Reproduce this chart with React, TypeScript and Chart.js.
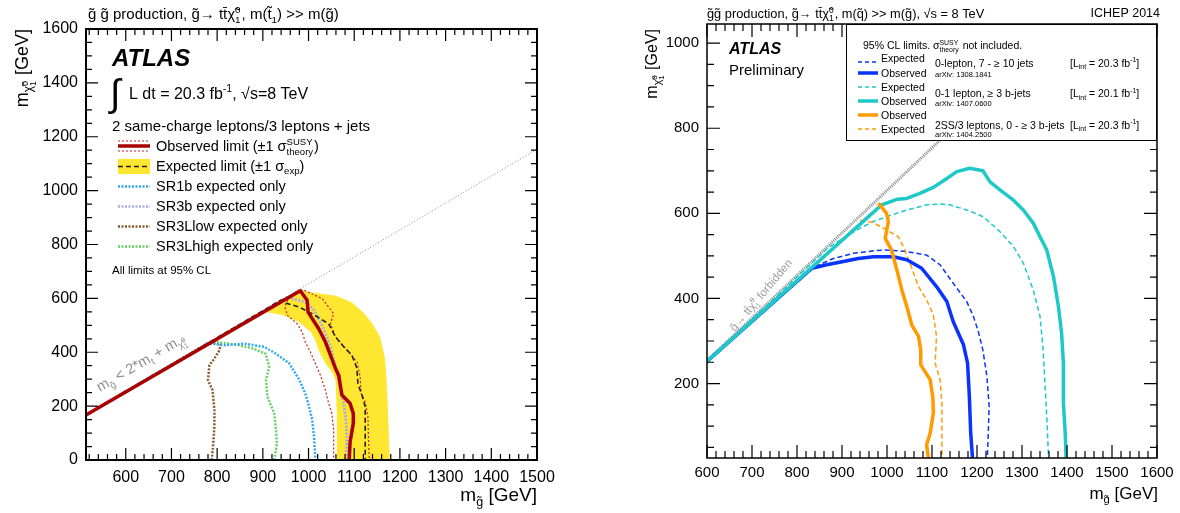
import React, { useEffect, useRef } from 'react';
import { Chart, registerables } from 'chart.js';

Chart.register(...registerables);

type P = [number, number];
type Part = [string, string?];

const FONT = '"Liberation Sans", Arial, Helvetica, sans-serif';

// ---------------- Left panel (GeV) ----------------
const leftXTickLabels = [600, 700, 800, 900, 1000, 1100, 1200, 1300, 1400, 1500];
const leftYTickLabels = [0, 200, 400, 600, 800, 1000, 1200, 1400, 1600];
const kinematicLeft: P[] = [[513, 167], [1500, 1154]];
const observedLimit: P[] = [[513, 167], [982, 628], [997, 593], [999, 549], [1008, 525], [1022, 488], [1037, 438], [1048, 389], [1059, 340], [1066, 315], [1073, 241], [1091, 210], [1098, 173], [1098, 136], [1091, 68], [1089, 0]];
const observedUp: P[] = [[513, 167], [988, 632], [1030, 599], [1055, 543], [1048, 506], [1059, 457], [1088, 401], [1106, 364], [1113, 309], [1115, 247], [1124, 216], [1130, 160], [1131, 86], [1133, 0]];
const observedDown: P[] = [[513, 167], [958, 609], [948, 568], [954, 537], [975, 506], [986, 475], [993, 438], [1004, 401], [1015, 358], [1026, 315], [1037, 259], [1044, 210], [1051, 173], [1055, 111], [1055, 0]];
const expectedLimit: P[] = [[513, 167], [940, 594], [950, 583], [979, 568], [1008, 543], [1044, 506], [1059, 457], [1077, 420], [1095, 389], [1106, 340], [1108, 284], [1117, 241], [1124, 198], [1124, 111], [1124, 0]];
const bandOuter: P[] = [[896, 550], [982, 630], [1010, 622], [1060, 610], [1095, 585], [1120, 548], [1140, 506], [1157, 455], [1167, 380], [1171, 296], [1174, 173], [1176, 80], [1178, 0]];
const bandInner: P[] = [[1062, 0], [1062, 173], [1059, 296], [1051, 327], [1037, 358], [1022, 407], [1015, 444], [1005, 475], [979, 512], [943, 538], [920, 546], [896, 550]];
const sr1bExpected: P[] = [[513, 167], [780, 434], [816, 426], [859, 432], [903, 420], [928, 395], [957, 360], [970, 325], [979, 300], [993, 247], [1000, 205], [1008, 150], [1012, 86], [1014, 31], [1015, 0]];
const sr3bExpected: P[] = [[513, 167], [955, 606], [964, 599], [993, 587], [1012, 556], [1026, 512], [1037, 469], [1048, 420], [1055, 370], [1062, 327], [1070, 259], [1077, 210], [1082, 148], [1084, 86], [1082, 0]];
const sr3lLowExpected: P[] = [[513, 167], [780, 434], [808, 430], [805, 407], [794, 377], [783, 352], [780, 296], [790, 259], [794, 185], [794, 124], [791, 49], [788, 0]];
const sr3lHighExpected: P[] = [[513, 167], [780, 434], [798, 438], [848, 426], [878, 414], [906, 395], [914, 346], [907, 296], [910, 235], [925, 173], [928, 124], [931, 62], [925, 0]];

// ---------------- Right panel (GeV) ----------------
const rightXTickLabels = [600, 700, 800, 900, 1000, 1100, 1200, 1300, 1400, 1500, 1600];
const rightYTickLabels = [200, 400, 600, 800, 1000];
const kinematicRight: P[] = [[600, 254], [1200, 854]];
const zeroLepObserved: P[] = [[600, 252], [833, 471], [866, 479], [903, 487], [936, 494], [970, 498], [1014, 498], [1044, 491], [1077, 471], [1110, 428], [1133, 393], [1147, 346], [1170, 291], [1179, 248], [1183, 170], [1186, 84], [1190, 25]];
const zeroLepExpected: P[] = [[600, 252], [840, 475], [881, 494], [925, 506], [970, 512], [999, 514], [1044, 510], [1088, 502], [1118, 479], [1147, 436], [1177, 393], [1192, 358], [1203, 322], [1213, 279], [1222, 217], [1227, 146], [1225, 84], [1223, 25]];
const oneLepObserved: P[] = [[600, 252], [988, 620], [1022, 633], [1044, 635], [1073, 647], [1103, 661], [1133, 682], [1155, 698], [1184, 706], [1213, 700], [1229, 674], [1251, 655], [1281, 631], [1303, 608], [1325, 577], [1340, 545], [1355, 514], [1370, 451], [1381, 381], [1388, 318], [1392, 248], [1392, 154], [1396, 84], [1398, 25]];
const oneLepExpected: P[] = [[600, 252], [870, 520], [896, 537], [940, 565], [970, 581], [999, 592], [1044, 608], [1088, 620], [1118, 622], [1140, 620], [1177, 608], [1214, 592], [1251, 557], [1281, 522], [1303, 483], [1325, 420], [1340, 358], [1347, 279], [1351, 201], [1355, 123], [1359, 25]];
const ssObserved: P[] = [[981, 624], [999, 600], [1003, 581], [996, 541], [1010, 514], [1022, 467], [1033, 420], [1044, 381], [1055, 338], [1070, 311], [1075, 279], [1075, 244], [1096, 209], [1102, 166], [1103, 131], [1096, 84], [1088, 56], [1092, 25]];
const ssExpected: P[] = [[940, 584], [970, 578], [999, 561], [1025, 545], [1040, 514], [1051, 483], [1070, 428], [1088, 397], [1103, 361], [1110, 311], [1107, 248], [1118, 209], [1122, 154], [1122, 84], [1122, 25]];

// ---------------- helpers ----------------
const toXY = (pts: P[]) => pts.map(([x, y]) => ({ x, y }));

function line(label: string, pts: P[], color: string, width: number, dash: number[], order: number, extra: any = {}) {
  return {
    label, data: toXY(pts), borderColor: color, backgroundColor: color, borderWidth: width,
    borderDash: dash, showLine: true, pointRadius: 0, pointHoverRadius: 0, fill: false,
    tension: 0, order, borderJoinStyle: 'round', ...extra,
  };
}

function drawRich(ctx: CanvasRenderingContext2D, x: number, y: number, size: number, parts: Part[],
  opt: { align?: string; color?: string; style?: string } = {}) {
  const style = opt.style || '';
  const small = size * 0.66;
  const tiny = size * 0.5;
  const setF = (s: number) => { ctx.font = `${style} ${s}px ${FONT}`; };
  const widths = parts.map(([t, k]) => {
    if (!k) { setF(size); return ctx.measureText(t).width; }
    if (k === '^_' || k === '_^_') {
      setF(k === '^_' ? small : tiny);
      const [a, b] = t.split('|');
      return Math.max(ctx.measureText(a).width, ctx.measureText(b).width) + 1;
    }
    setF(small);
    return ctx.measureText(t).width;
  });
  const total = widths.reduce((a, b) => a + b, 0);
  let cx = opt.align === 'right' ? x - total : opt.align === 'center' ? x - total / 2 : x;
  ctx.fillStyle = opt.color || '#000';
  ctx.textBaseline = 'alphabetic';
  ctx.textAlign = 'left';
  parts.forEach(([t, k], i) => {
    if (!k) { setF(size); ctx.fillText(t, cx, y); }
    else if (k === '^') { setF(small); ctx.fillText(t, cx, y - size * 0.42); }
    else if (k === '_') { setF(small); ctx.fillText(t, cx, y + size * 0.24); }
    else if (k === '^_') {
      const [a, b] = t.split('|'); setF(small);
      ctx.fillText(a, cx, y - size * 0.42); ctx.fillText(b, cx, y + size * 0.26);
    } else {
      const [a, b] = t.split('|'); setF(tiny);
      ctx.fillText(a, cx, y - size * 0.02); ctx.fillText(b, cx, y + size * 0.42);
    }
    cx += widths[i];
  });
  return total;
}

function drawFrame(chart: any, xMajorStep: number, xMinorStep: number, yMajorStep: number, yMinorStep: number,
  maj: number, min: number, lw: number) {
  const { ctx, chartArea: a, scales } = chart;
  const xs = scales.x, ys = scales.y;
  ctx.save();
  ctx.strokeStyle = '#000';
  ctx.lineWidth = 1.2;
  ctx.beginPath();
  for (let v = Math.ceil(xs.min / xMinorStep) * xMinorStep; v <= xs.max + 1e-6; v += xMinorStep) {
    const px = xs.getPixelForValue(v);
    const len = Math.abs(v % xMajorStep) < 1e-6 ? maj : min;
    ctx.moveTo(px, a.bottom); ctx.lineTo(px, a.bottom - len);
    ctx.moveTo(px, a.top); ctx.lineTo(px, a.top + len);
  }
  for (let v = Math.ceil(ys.min / yMinorStep) * yMinorStep; v <= ys.max + 1e-6; v += yMinorStep) {
    const py = ys.getPixelForValue(v);
    const len = Math.abs(v % yMajorStep) < 1e-6 ? maj : min;
    ctx.moveTo(a.left, py); ctx.lineTo(a.left + len, py);
    ctx.moveTo(a.right, py); ctx.lineTo(a.right - len, py);
  }
  ctx.stroke();
  ctx.lineWidth = lw;
  ctx.strokeRect(a.left, a.top, a.right - a.left, a.bottom - a.top);
  ctx.restore();
}

function sample(ctx: CanvasRenderingContext2D, x0: number, x1: number, y: number, color: string, w: number, dash: number[]) {
  ctx.save();
  ctx.strokeStyle = color; ctx.lineWidth = w; ctx.setLineDash(dash);
  ctx.beginPath(); ctx.moveTo(x0, y); ctx.lineTo(x1, y); ctx.stroke();
  ctx.restore();
}

const G = 'g\u0303';
const CHI = '\u03c7\u0303';

const leftDecor = {
  id: 'leftDecor',
  afterDraw(chart: any) {
    const ctx: CanvasRenderingContext2D = chart.ctx;
    drawFrame(chart, 100, 20, 200, 50, 12, 6, 2);
    ctx.save();
    // title
    drawRich(ctx, 88, 19, 15, [[`${G} ${G} production, ${G}\u2192 tt\u0304${CHI}`], ['0|1', '^_'], [', m(t\u0303'], ['1', '_'], [`) >> m(${G})`]]);
    // ATLAS
    ctx.font = `italic bold 24px ${FONT}`; ctx.fillStyle = '#000'; ctx.textAlign = 'left'; ctx.textBaseline = 'alphabetic';
    ctx.fillText('ATLAS', 112, 66);
    ctx.font = `38px ${FONT}`;
    ctx.fillText('\u222b', 110, 106);
    drawRich(ctx, 129, 98.5, 16, [['L dt = 20.3 fb'], ['-1', '^'], [', \u221as=8 TeV']]);
    drawRich(ctx, 112, 131, 15, [['2 same-charge leptons/3 leptons + jets']]);
    // legend
    ctx.fillStyle = '#ffe631'; ctx.fillRect(118, 159, 32, 15);
    sample(ctx, 118, 150, 146, '#aa0000', 3.5, []);
    sample(ctx, 118, 150, 141, '#cc2222', 1.2, [2, 2]);
    sample(ctx, 118, 150, 151, '#cc2222', 1.2, [2, 2]);
    sample(ctx, 118, 150, 166.5, '#222', 1.6, [5, 3]);
    sample(ctx, 118, 150, 186.5, '#33a6f2', 2.5, [2, 1.5]);
    sample(ctx, 118, 150, 206.5, '#a8addf', 2.5, [2, 1.5]);
    sample(ctx, 118, 150, 226.5, '#8a5a2a', 2.5, [2, 1.5]);
    sample(ctx, 118, 150, 246.5, '#66d066', 2.5, [2, 1.5]);
    drawRich(ctx, 156, 151, 14.5, [['Observed limit (\u00b11 \u03c3'], ['SUSY|theory', '^_'], [')']]);
    drawRich(ctx, 156, 171, 14.5, [['Expected limit (\u00b11 \u03c3'], ['exp', '_'], [')']]);
    drawRich(ctx, 156, 191, 14.5, [['SR1b expected only']]);
    drawRich(ctx, 156, 211, 14.5, [['SR3b expected only']]);
    drawRich(ctx, 156, 231, 14.5, [['SR3Llow expected only']]);
    drawRich(ctx, 156, 251, 14.5, [['SR3Lhigh expected only']]);
    drawRich(ctx, 112, 274, 11.5, [['All limits at 95% CL']]);
    // kinematic label
    ctx.save();
    ctx.translate(100, 392);
    ctx.rotate(-30.4 * Math.PI / 180);
    drawRich(ctx, 0, 0, 14.5, [['m'], [G, '_'], [' < 2*m'], ['t', '_'], [' + m'], [CHI, '_'], ['0|1', '_^_']], { color: '#8c8c8c' });
    ctx.restore();
    // axis titles
    drawRich(ctx, 537, 501, 19, [['m'], [G, '_'], [' [GeV]']], { align: 'right' });
    ctx.save();
    ctx.translate(28, 29);
    ctx.rotate(-Math.PI / 2);
    drawRich(ctx, 0, 0, 18, [['m'], [CHI, '_'], ['0|1', '_^_'], [' [GeV]']], { align: 'right' });
    ctx.restore();
    ctx.restore();
  },
};

const OFF = 590;
const rightDecor = {
  id: 'rightDecor',
  afterDraw(chart: any) {
    const ctx: CanvasRenderingContext2D = chart.ctx;
    drawFrame(chart, 100, 20, 200, 50, 13, 7, 1.5);
    ctx.save();
    drawRich(ctx, 707 - OFF, 18, 12.8, [[`${G}${G} production, ${G}\u2192 tt\u0304${CHI}`], ['0|1', '^_'], [`, m(q\u0303) >> m(${G}), \u221as = 8 TeV`]]);
    drawRich(ctx, 1160 - OFF, 17, 12.5, [['ICHEP 2014']], { align: 'right' });
    ctx.font = `italic bold 16px ${FONT}`; ctx.fillStyle = '#000'; ctx.textAlign = 'left'; ctx.textBaseline = 'alphabetic';
    ctx.fillText('ATLAS', 729 - OFF, 54);
    drawRich(ctx, 729 - OFF, 75, 15, [['Preliminary']]);
    // forbidden label
    ctx.save();
    ctx.translate(735 - OFF, 332);
    ctx.rotate(-50 * Math.PI / 180);
    drawRich(ctx, 0, 0, 11.5, [[`${G}\u2192 tt\u0304${CHI}`], ['0|1', '^_'], [' forbidden']], { color: '#a0a0a0' });
    ctx.restore();
    // legend box
    const L = 846 - OFF, T = chart.chartArea.top, Rr = 1156 - OFF, B = 140;
    ctx.fillStyle = '#fff'; ctx.fillRect(L, T, Rr - L, B - T);
    ctx.strokeStyle = '#000'; ctx.lineWidth = 1; ctx.strokeRect(L + 0.5, T + 0.5, Rr - L, B - T);
    drawRich(ctx, 863 - OFF, 49, 10.5, [['95% CL limits. \u03c3'], ['SUSY|theory', '^_'], [' not included.']]);
    const sx0 = 858 - OFF, sx1 = 878 - OFF;
    sample(ctx, sx0, sx1, 62, '#0a33ff', 1.5, [4, 3]);
    sample(ctx, sx0, sx1, 73, '#0a33ff', 3.5, []);
    sample(ctx, sx0, sx1, 87, '#1fc8c8', 1.5, [4, 3]);
    sample(ctx, sx0, sx1, 101, '#1fc8c8', 3.5, []);
    sample(ctx, sx0, sx1, 115, '#ff9a00', 3.5, []);
    sample(ctx, sx0, sx1, 129, '#ff9a00', 1.5, [4, 3]);
    const tx = 881 - OFF;
    drawRich(ctx, tx, 62, 10.5, [['Expected']]);
    drawRich(ctx, tx, 76.5, 10.5, [['Observed']]);
    drawRich(ctx, tx, 90.5, 10.5, [['Expected']]);
    drawRich(ctx, tx, 104.5, 10.5, [['Observed']]);
    drawRich(ctx, tx, 118.5, 10.5, [['Observed']]);
    drawRich(ctx, tx, 132.5, 10.5, [['Expected']]);
    const dx = 935 - OFF, lx = 1070 - OFF;
    drawRich(ctx, dx, 66.5, 10.5, [['0-lepton, 7 - \u2265 10 jets']]);
    drawRich(ctx, dx, 77, 7.5, [['arXiv: 1308.1841']]);
    drawRich(ctx, lx, 66.5, 10.5, [['[L'], ['int', '_'], [' = 20.3 fb'], ['-1', '^'], [']']]);
    drawRich(ctx, dx, 97, 10.5, [['0-1 lepton, \u2265 3 b-jets']]);
    drawRich(ctx, dx, 105.5, 7.5, [['arXiv: 1407.0600']]);
    drawRich(ctx, lx, 97, 10.5, [['[L'], ['int', '_'], [' = 20.1 fb'], ['-1', '^'], [']']]);
    drawRich(ctx, dx, 128.5, 10.5, [['2SS/3 leptons, 0 - \u2265 3 b-jets']]);
    drawRich(ctx, dx, 137, 7.5, [['arXiv: 1404.2500']]);
    drawRich(ctx, lx, 128.5, 10.5, [['[L'], ['int', '_'], [' = 20.3 fb'], ['-1', '^'], [']']]);
    // axis titles
    drawRich(ctx, 1158 - OFF, 499, 17, [['m'], [G, '_'], [' [GeV]']], { align: 'right' });
    ctx.save();
    ctx.translate(657 - OFF, 29);
    ctx.rotate(-Math.PI / 2);
    drawRich(ctx, 0, 0, 16, [['m'], [CHI, '_'], ['0|1', '_^_'], [' [GeV]']], { align: 'right' });
    ctx.restore();
    ctx.restore();
  },
};

function axis(min: number, max: number, ticks: number[], size: number, pad: number, fit: (s: any) => void) {
  return {
    type: 'linear', min, max,
    grid: { display: false, drawTicks: false },
    border: { display: false },
    ticks: { font: { family: FONT, size }, color: '#000', padding: pad, maxRotation: 0, autoSkip: false, callback: (v: any) => String(v) },
    afterBuildTicks: (s: any) => { s.ticks = ticks.map((v) => ({ value: v })); },
    afterFit: fit,
  };
}

function leftConfig(): any {
  return {
    type: 'scatter',
    data: {
      datasets: [
        { label: 'band', data: toXY([...bandOuter, ...bandInner]), backgroundColor: '#ffe631', borderWidth: 0, borderColor: 'rgba(0,0,0,0)', showLine: true, pointRadius: 0, fill: 'shape', tension: 0, order: 20 },
        line('kinematic', kinematicLeft, '#888', 1, [1, 2], 19),
        line('SR3Llow', sr3lLowExpected, '#8a5a2a', 2.5, [2, 1.5], 15),
        line('SR3Lhigh', sr3lHighExpected, '#66d066', 2.5, [2, 1.5], 14),
        line('SR1b', sr1bExpected, '#33a6f2', 2.5, [2, 1.5], 13),
        line('SR3b', sr3bExpected, '#a8addf', 3, [2, 1.5], 12),
        line('obs -1', observedDown, '#cc2222', 1.2, [2, 2], 8),
        line('obs +1', observedUp, '#cc2222', 1.2, [2, 2], 7),
        line('expected', expectedLimit, '#222', 1.6, [5, 3], 5),
        line('observed', observedLimit, '#aa0000', 3.5, [], 0),
      ],
    },
    options: {
      animation: false, responsive: false,
      layout: { padding: { left: 0, top: 29, right: 53, bottom: 0 } },
      plugins: { legend: { display: false }, tooltip: { enabled: false } },
      scales: {
        x: axis(513, 1500, leftXTickLabels, 16, 8, (s: any) => { s.height = 53; }),
        y: axis(0, 1600, leftYTickLabels, 16, 8, (s: any) => { s.width = 86; }),
      },
    },
    plugins: [leftDecor],
  };
}

function rightConfig(): any {
  return {
    type: 'scatter',
    data: {
      datasets: [
        line('kinematic', kinematicRight, '#8a8a8a', 3, [1, 1], 20, { borderJoinStyle: 'miter' }),
        line('0L exp', zeroLepExpected, '#0a33ff', 1.5, [5, 3], 6),
        line('1L exp', oneLepExpected, '#1fc8c8', 1.5, [5, 3], 5),
        line('SS exp', ssExpected, '#ff9a00', 1.5, [5, 3], 4),
        line('0L obs', zeroLepObserved, '#0a33ff', 3.5, [], 2),
        line('1L obs', oneLepObserved, '#1fc8c8', 3.5, [], 1),
        line('SS obs', ssObserved, '#ff9a00', 3.5, [], 0),
      ],
    },
    options: {
      animation: false, responsive: false,
      layout: { padding: { left: 0, top: 24, right: 590 - 567, bottom: 0 } },
      plugins: { legend: { display: false }, tooltip: { enabled: false } },
      scales: {
        x: axis(600, 1600, rightXTickLabels, 15, 6, (s: any) => { s.height = 55; }),
        y: axis(25, 1045, rightYTickLabels, 15, 8, (s: any) => { s.width = 117; }),
      },
    },
    plugins: [rightDecor],
  };
}

function Panel({ left, make }: { left: number; make: () => any }) {
  const ref = useRef<HTMLCanvasElement>(null);
  useEffect(() => {
    const chart = new Chart(ref.current as HTMLCanvasElement, make());
    return () => chart.destroy();
  }, []);
  return <canvas ref={ref} width={590} height={513} style={{ position: 'absolute', left, top: 0, width: 590, height: 513 }} />;
}

export default function App() {
  return (
    <div style={{ position: 'absolute', left: 0, top: 0, width: 1180, height: 513, background: '#fff', overflow: 'hidden' }}>
      <Panel left={0} make={leftConfig} />
      <Panel left={590} make={rightConfig} />
    </div>
  );
}
